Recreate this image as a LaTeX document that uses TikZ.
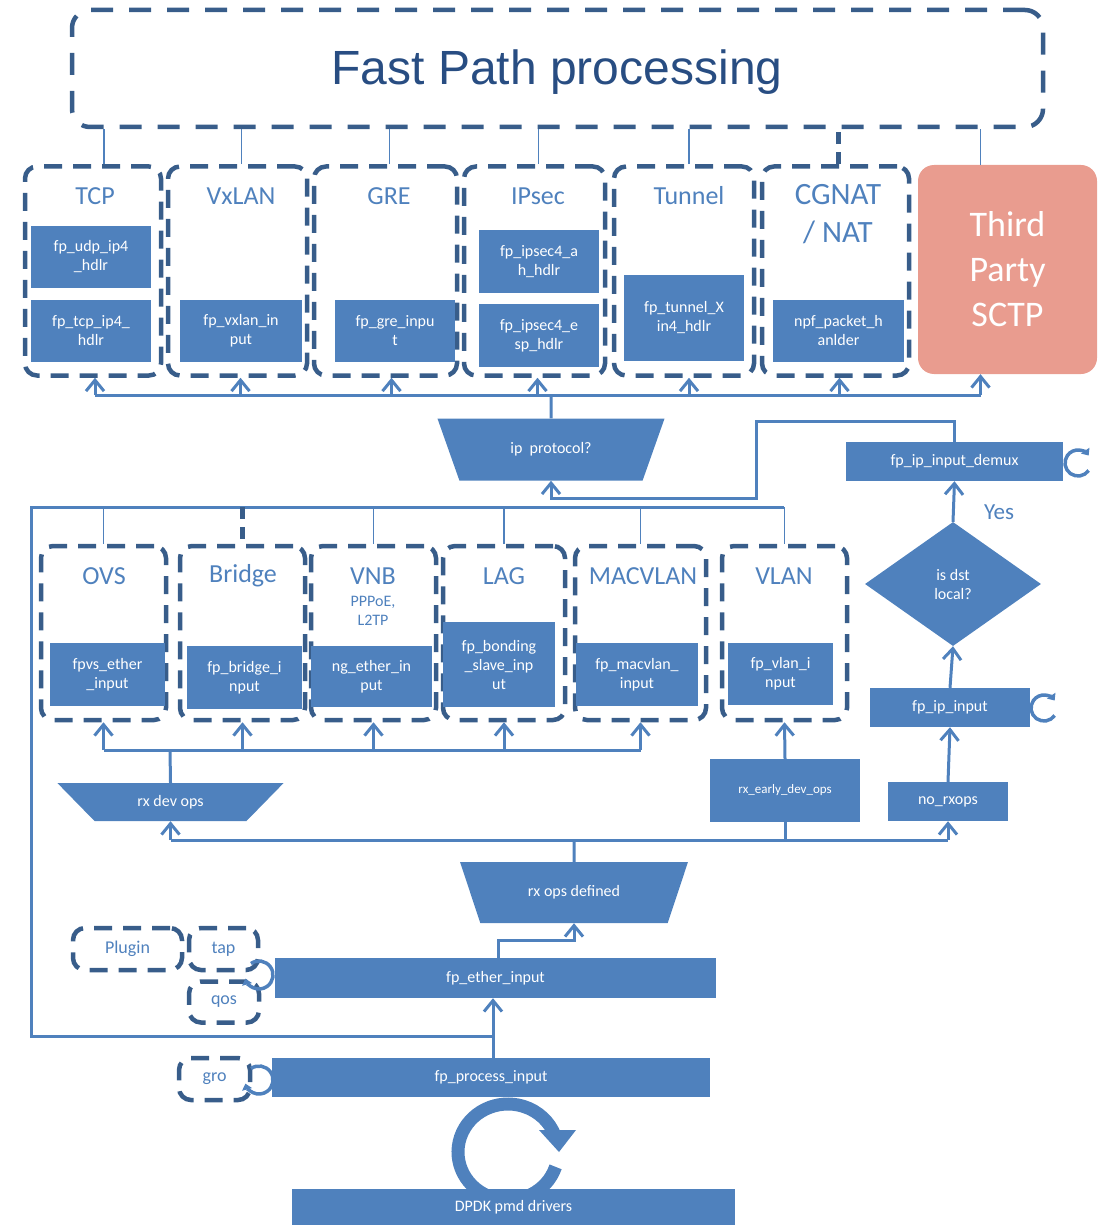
\documentclass[tikz,border=0pt]{standalone}
\usepackage{fontspec}
\setmainfont{Carlito}
\newfontfamily\titlefont{Liberation Sans}
\usetikzlibrary{arrows.meta}
\usetikzlibrary{shapes.geometric}
\definecolor{fpblue}{HTML}{4F81BD}
\definecolor{dashblue}{HTML}{385D8A}
\definecolor{titleblue}{HTML}{284D82}
\definecolor{salmon}{HTML}{E99C8F}
\newcommand{\boxfont}{\fontsize{16}{19}\selectfont}
\newcommand{\smallboxfont}{\fontsize{13}{16}\selectfont}
\newcommand{\grpfont}{\fontsize{26}{38}\selectfont}
\newcommand{\thirdfont}{\fontsize{36}{45}\selectfont}
\newcommand{\optfont}{\fontsize{18}{22}\selectfont}

\begin{document}
\begin{tikzpicture}[x=1pt, y=-1pt,
  fpbox/.style={fill=fpblue, text=white, align=center, inner sep=0pt, font=\boxfont},
  grp/.style={draw=dashblue, line width=4.5pt, dash pattern=on 18pt off 11pt, rounded corners=12pt, inner sep=0pt},
  grptitle/.style={text=fpblue, align=center, font=\grpfont},
  grpline/.style={draw=dashblue, line width=4.5pt, dash pattern=on 12pt off 8pt},
  trap/.style={trapezium, shape border rotate=180, trapezium stretches=true, fill=fpblue, text=white, inner sep=0pt, font=\boxfont},
  link/.style={draw=fpblue, line width=3pt},
  feed/.style={draw=fpblue, line width=1.8pt},
  uparr/.style={-{Straight Barb[length=11pt,width=18pt]}},
  selfarr/.style={draw=fpblue, line width=3.5pt, -{Triangle[length=6pt,width=10pt]}}]
  \useasboundingbox (0,0) rectangle (1105,1225);

  % fast path
  \node[grp, dash pattern=on 22pt off 16pt, rounded corners=18pt, minimum width=971pt, minimum height=117pt] (fastpath) at (557.5,68.5) {};
  \node[text=titleblue, font=\titlefont\fontsize{48}{56}\selectfont] (fptitle) at (557,72) {Fast Path processing};

  % protocol groups
  \foreach \n/\x/\w in {tcp/93/136, vxlan/237.5/139, gre/385.5/143, ipsec/534.5/141, tunnel/684/140, cgnat/835.5/147}
    \node[grp, minimum width=\w pt, minimum height=209pt] (\n) at (\x,271) {};
  \foreach \n/\x/\t in {tcp/95/TCP, vxlan/241/VxLAN, gre/389/GRE, ipsec/538/IPsec, tunnel/689/Tunnel}
    \node[grptitle] (\n-t) at (\x,196) {\t};
  \node[grptitle, font=\fontsize{31}{38}\selectfont] (cgnat-t) at (838,214) {CGNAT\\/ NAT};
  \node[fill=salmon, rounded corners=16pt, minimum width=179pt, minimum height=209pt, text=white, align=center, font=\thirdfont] (third) at (1007.5,269.5) {Third\\Party\\SCTP};

  \node[fpbox, minimum width=120pt, minimum height=62pt] (udp) at (91,257) {fp\_udp\_ip4\\\_hdlr};
  \node[fpbox, minimum width=120pt, minimum height=62pt] (tcpin) at (91,331) {fp\_tcp\_ip4\_\\hdlr};
  \node[fpbox, minimum width=122pt, minimum height=62pt] (vxin) at (241,331) {fp\_vxlan\_in\\put};
  \node[fpbox, minimum width=120pt, minimum height=62pt] (grein) at (395,331) {fp\_gre\_inpu\\t};
  \node[fpbox, minimum width=120pt, minimum height=63pt] (ah) at (539,261.5) {fp\_ipsec4\_a\\h\_hdlr};
  \node[fpbox, minimum width=120pt, minimum height=63pt] (esp) at (539,335.5) {fp\_ipsec4\_e\\sp\_hdlr};
  \node[fpbox, minimum width=120pt, minimum height=86pt] (tunin) at (684,318) {fp\_tunnel\_X\\in4\_hdlr};
  \node[fpbox, minimum width=131pt, minimum height=62pt] (npf) at (838.5,331) {npf\_packet\_h\\anlder};

  \foreach \n/\d in {tcp/11, vxlan/4, gre/4, ipsec/4, tunnel/5, third/-27}
    \draw[feed] ([xshift=\d pt]\n.north) -- ([xshift=\d pt]\n.north |- fastpath.south);
  \draw[grpline] ([xshift=3pt]cgnat.north) -- ([xshift=3pt]cgnat.north |- fastpath.south);

  % ip protocol
  \node[trap, trapezium angle=54.6, minimum width=228pt, minimum height=62pt] (ipproto) at (551,449.5) {ip\ \ protocol?};
  \coordinate (l4bus) at (551,395);
  \draw[link] (ipproto.north) -- (l4bus);
  \draw[link] ([xshift=2pt]tcp.south |- l4bus) -- ([xshift=-27pt]third.south |- l4bus);
  \foreach \n/\d in {tcp/2, vxlan/3, gre/6, ipsec/3, tunnel/5, cgnat/4, third/-27}
    \draw[link, uparr] ([xshift=\d pt]\n.south |- l4bus) -- ([xshift=\d pt]\n.south);

  % ip path
  \node[fpbox, minimum width=217pt, minimum height=39pt] (demux) at (954.5,461.5) {fp\_ip\_input\_demux};
  \node[diamond, fill=fpblue, text=white, align=center, inner sep=0pt, minimum width=176pt, minimum height=124pt, font=\boxfont] (dst) at (953,584) {is dst\\local?};
  \node[fpbox, minimum width=160pt, minimum height=39pt] (ipin) at (950,707.5) {fp\_ip\_input};
  \node[fpbox, minimum width=120pt, minimum height=39pt] (norx) at (948,801.5) {no\_rxops};
  \node[text=fpblue, font=\fontsize{23}{26}\selectfont] (yes) at (999,512) {Yes};
  \draw[link, uparr] (norx.north) -- (ipin.south);
  \draw[link, uparr] (ipin.north) -- (dst.south);
  \draw[link, uparr] (dst.north) -- (demux.south);
  \coordinate (bend) at (756,421);
  \draw[link, uparr] (demux.north) |- (bend) -- ++(0,77) -| (ipproto.south);
  \draw[selfarr] (1078,463) ++(35:13) arc[start angle=35, end angle=325, radius=13];
  \draw[selfarr] (1044,708) ++(35:13) arc[start angle=35, end angle=325, radius=13];

  % l2 groups
  \foreach \n/\x/\w in {ovs/103.5/125, bridge/242.5/125, vnb/373.5/125, lag/504/122, macvlan/640.5/131, vlan/784.5/125}
    \node[grp, minimum width=\w pt, minimum height=174pt] (\n) at (\x,633) {};
  \foreach \n/\x/\t in {ovs/104/OVS, bridge/243/Bridge, vnb/373/VNB, lag/504/LAG, macvlan/643/MACVLAN, vlan/784/VLAN}
    \node[grptitle] (\n-t) at (\x,576) {\t};
  \node[text=fpblue, align=center, font=\boxfont] (vnb-s) at (373,610.5) {PPPoE,\\L2TP};

  \node[fpbox, minimum width=115pt, minimum height=63pt] (fpvs) at (107.5,674.5) {fpvs\_ether\\\_input};
  \node[fpbox, minimum width=115pt, minimum height=63pt] (brin) at (244.5,677.5) {fp\_bridge\_i\\nput};
  \node[fpbox, minimum width=121pt, minimum height=61pt] (ngin) at (371.5,676.5) {ng\_ether\_in\\put};
  \node[fpbox, minimum width=112pt, minimum height=85pt] (bond) at (499,664.5) {fp\_bonding\\\_slave\_inp\\ut};
  \node[fpbox, minimum width=122pt, minimum height=63pt] (macin) at (637,674.5) {fp\_macvlan\_\\input};
  \node[fpbox, minimum width=105pt, minimum height=62pt] (vlanin) at (780.5,674) {fp\_vlan\_i\\nput};

  % rx ops
  \node[trap, trapezium angle=40.2, minimum width=227pt, minimum height=38pt] (rxdev) at (170.5,802) {rx dev ops};
  \node[fpbox, font=\smallboxfont, minimum width=150pt, minimum height=63pt] (rxearly) at (785,790.5) {rx\_early\_dev\_ops};
  \node[trap, trapezium angle=53.9, minimum width=228pt, minimum height=61pt] (rxops) at (574,892.5) {rx ops defined};

  \coordinate (l2bot) at (170,750);
  \draw[link] (rxdev.north) -- (l2bot);
  \draw[link] (ovs.south |- l2bot) -- (macvlan.south |- l2bot);
  \foreach \n in {ovs, bridge, vnb, lag, macvlan}
    \draw[link, uparr] (\n.south |- l2bot) -- (\n.south);
  \draw[link, uparr] (rxearly.north) -- (vlan.south);

  \coordinate (l1bus) at (574,840);
  \draw[link] (rxops.north) -- (l1bus);
  \draw[link] (rxdev.south |- l1bus) -- (norx.south |- l1bus);
  \draw[link] (rxearly.south) -- (rxearly.south |- l1bus);
  \draw[link, uparr] (rxdev.south |- l1bus) -- (rxdev.south);
  \draw[link, uparr] (norx.south |- l1bus) -- (norx.south);

  % ether input
  \node[fpbox, minimum width=441pt, minimum height=40pt] (ether) at (495.5,978) {fp\_ether\_input};
  \draw[link, uparr] ([xshift=3pt]ether.north) -- ++(0,-17) -| (rxops.south);
  \node[grp, minimum width=109pt, minimum height=42pt, text=fpblue, font=\optfont] (plugin) at (127.5,949) {Plugin};
  \node[grp, minimum width=69pt, minimum height=42pt, text=fpblue, font=\optfont] (tap) at (223.5,949) {tap};
  \node[grp, minimum width=70pt, minimum height=41pt, text=fpblue, font=\optfont] (qos) at (224,1002) {qos};
  \node[grp, minimum width=71pt, minimum height=42pt, text=fpblue, font=\optfont] (gro) at (214.5,1079) {gro};
  \draw[selfarr] (259,975) ++(-125:14) arc[start angle=-125, end angle=165, radius=14];
  \draw[selfarr] (259,1080) ++(-125:14) arc[start angle=-125, end angle=165, radius=14];

  % loop back to l2
  \coordinate (jn) at (493,1036);
  \coordinate (l2w) at (31,507);
  \coordinate (l2e) at (784,507);
  \draw[link] (jn) -| (l2w) -- (l2e);
  \foreach \n in {ovs, vnb, lag, macvlan, vlan}
    \draw[feed] (\n.north |- l2w) -- (\n.north);
  \draw[grpline] (bridge.north |- l2w) -- (bridge.north);

  % process input and drivers
  \draw[draw=fpblue, line width=13pt] (508,1152) ++(18:50 and 48) arc[start angle=18, end angle=340, x radius=50, y radius=48];
  \fill[fpblue] (539,1130) -- (576,1130) -- (559,1152) -- cycle;
  \node[fpbox, minimum width=438pt, minimum height=39pt] (pin) at (491,1077.5) {fp\_process\_input};
  \node[fpbox, minimum width=443pt, minimum height=36pt] (dpdk) at (513.5,1207) {DPDK pmd drivers};
  \draw[link, uparr] (pin.north -| jn) -- (ether.south -| jn);
\end{tikzpicture}
\end{document}
